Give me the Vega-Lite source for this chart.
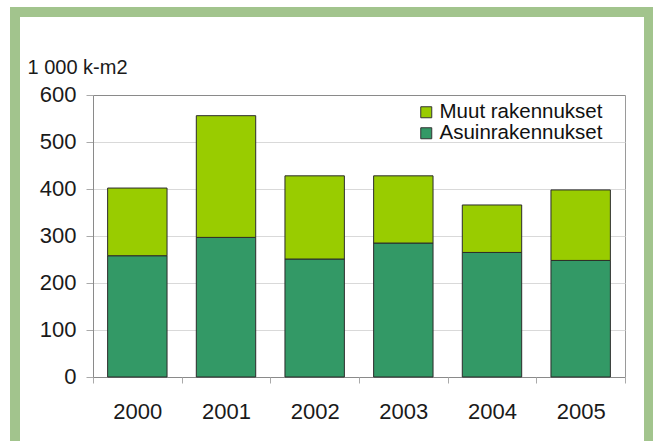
{
  "$schema": "https://vega.github.io/schema/vega-lite/v6.json",
  "autosize": {"type": "none"},
  "padding": {"left": 15, "top": 12, "right": 4, "bottom": 0},
  "width": 634,
  "height": 429,
  "background": "#ffffff",
  "data": {
    "values": [
      {"year": "2000", "series": "Asuinrakennukset", "value": 258},
      {"year": "2000", "series": "Muut rakennukset", "value": 144},
      {"year": "2001", "series": "Asuinrakennukset", "value": 297},
      {"year": "2001", "series": "Muut rakennukset", "value": 259},
      {"year": "2002", "series": "Asuinrakennukset", "value": 251},
      {"year": "2002", "series": "Muut rakennukset", "value": 177},
      {"year": "2003", "series": "Asuinrakennukset", "value": 285},
      {"year": "2003", "series": "Muut rakennukset", "value": 143},
      {"year": "2004", "series": "Asuinrakennukset", "value": 265},
      {"year": "2004", "series": "Muut rakennukset", "value": 101},
      {"year": "2005", "series": "Asuinrakennukset", "value": 248},
      {"year": "2005", "series": "Muut rakennukset", "value": 150}
    ]
  },
  "mark": {"type": "bar", "width": {"band": 0.67}, "stroke": "#2b2b2b", "strokeWidth": 1},
  "encoding": {
    "x": {
      "field": "year",
      "type": "ordinal",
      "scale": {"paddingInner": 0, "paddingOuter": 0.5752, "align": 0.7647},
      "axis": {
        "title": null,
        "orient": "bottom",
        "offset": -64,
        "labelAngle": 0,
        "labelFontSize": 22,
        "labelPadding": 18,
        "labelColor": "#1a1a1a",
        "tickBand": "extent",
        "tickSize": 6,
        "tickColor": "#aaaaaa",
        "domain": false,
        "grid": true,
        "gridColor": "#9a9a9a",
        "gridOpacity": {"condition": {"test": "datum.value === '2005'", "value": 1}, "value": 0},
        "gridDash": [0, 83, 282, 1000]
      }
    },
    "y": {
      "field": "value",
      "type": "quantitative",
      "stack": "zero",
      "scale": {"domain": [-136.2, 776.6], "nice": false, "zero": false},
      "axis": {
        "orient": "left",
        "offset": -78,
        "values": [0, 100, 200, 300, 400, 500, 600],
        "title": "1 000 k-m2",
        "titleAngle": 0,
        "titleAlign": "left",
        "titleBaseline": "alphabetic",
        "titleX": -66,
        "titleY": 61,
        "titleFontSize": 20,
        "titleFontWeight": "normal",
        "titleColor": "#1a1a1a",
        "labelFontSize": 22,
        "labelPadding": 10,
        "labelColor": "#1a1a1a",
        "tickSize": 7,
        "tickColor": "#aaaaaa",
        "domain": true,
        "domainColor": "#8a8a8a",
        "domainDash": [0, 64, 282, 1000],
        "grid": true,
        "gridColor": {"condition": {"test": "datum.value === 0 || datum.value === 600", "value": "#8a8a8a"}, "value": "#d9d9d9"},
        "gridDash": [0, 78, 532, 1000]
      }
    },
    "color": {
      "field": "series",
      "type": "nominal",
      "scale": {"domain": ["Muut rakennukset", "Asuinrakennukset"], "range": ["#99cc00", "#339966"]},
      "legend": {
        "orient": "none",
        "legendX": 401,
        "legendY": 90,
        "title": null,
        "symbolType": "square",
        "symbolSize": 121,
        "symbolStrokeColor": "#333333",
        "symbolStrokeWidth": 1,
        "labelFontSize": 20.5,
        "labelLimit": 400,
        "labelColor": "#111111",
        "labelOffset": 3,
        "rowPadding": -1.5,
        "padding": 0
      }
    },
    "order": {"field": "series", "sort": "ascending"}
  },
  "config": {
    "font": "Liberation Sans",
    "view": {"stroke": "#a2c48d", "strokeWidth": 10, "strokeDash": [1063, 634, 429], "fill": "#ffffff"}
  }
}
